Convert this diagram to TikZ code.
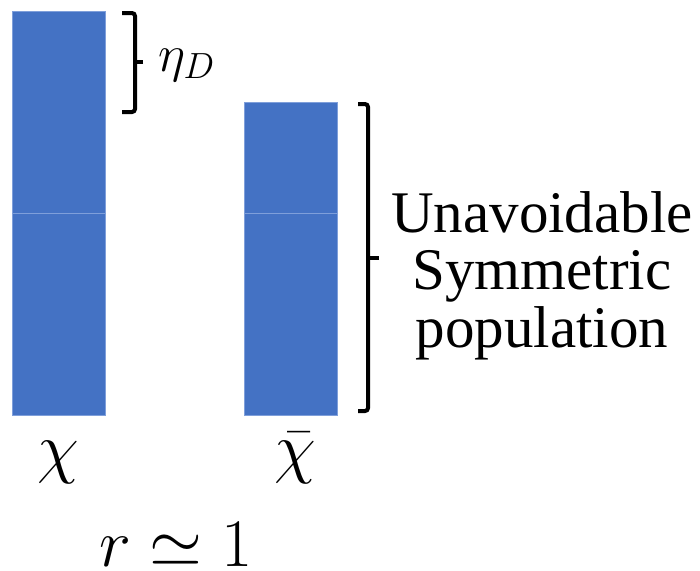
\RequirePackage{fix-cm}
\documentclass[tikz,border=0pt]{standalone}
\usepackage{fontspec}
\setmainfont{Liberation Serif}
\usepackage{amsmath,amssymb}
\usepackage{tikz}
\usetikzlibrary{positioning}

\definecolor{barblue}{HTML}{4472C4}
\definecolor{barline}{HTML}{7F9FDA}

\begin{document}
\begin{tikzpicture}[
    x=0.5pt, y=-0.5pt,
    bar/.style={fill=barblue, draw=barline, line width=0.5pt},
    brk/.style={line width=2pt, rounded corners=1.5pt},
    sym/.style={font=\fontsize{34}{40}\selectfont, anchor=base, inner sep=0pt},
    txt/.style={font=\fontsize{29.5}{35}\selectfont, anchor=base, inner sep=0pt}
  ]
  \useasboundingbox (0,0) rectangle (700,570);
  % -- bars --
  \draw[bar] (12,11) rectangle (105,213);
  \draw[bar] (12,213) rectangle (105,415);
  \draw[bar] (244,102) rectangle (337,213);
  \draw[bar] (244,213) rectangle (337,415);
  % -- eta_D bracket --
  \coordinate (etaTop) at (122,13);
  \coordinate (etaBot) at (122,112);
  \coordinate (etaTip) at (143,62);
  \draw[brk] (etaTop) -- ++(13,0) |- (etaBot);
  \draw[line width=2pt] (etaTip) -- ++(-8,0);
  \node[inner sep=0pt, anchor=base west, font=\fontsize{26}{30}\selectfont] (eta) at (158,71) {$\eta_D$};
  % -- symmetric bracket --
  \coordinate (symTop) at (358,104);
  \coordinate (symBot) at (358,411);
  \coordinate (symTip) at (379,258);
  \draw[brk] (symTop) -- ++(10,0) |- (symBot);
  \draw[line width=2pt] (symTip) -- ++(-11,0);
  \foreach \t [count=\i] in {Unavoidable,Symmetric,population}{
    \node[txt] (pop\i) at (542,{232+(\i-1)*57.5}) {\t};
  }
  % -- labels --
  \node[sym] (chi) at (58,470) {$\chi$};
  \node[sym] (chibar) at (295,470) {$\bar{\chi}$};
  \node[sym] (ratio) at (176,566) {$r\simeq 1$};
\end{tikzpicture}
\end{document}
